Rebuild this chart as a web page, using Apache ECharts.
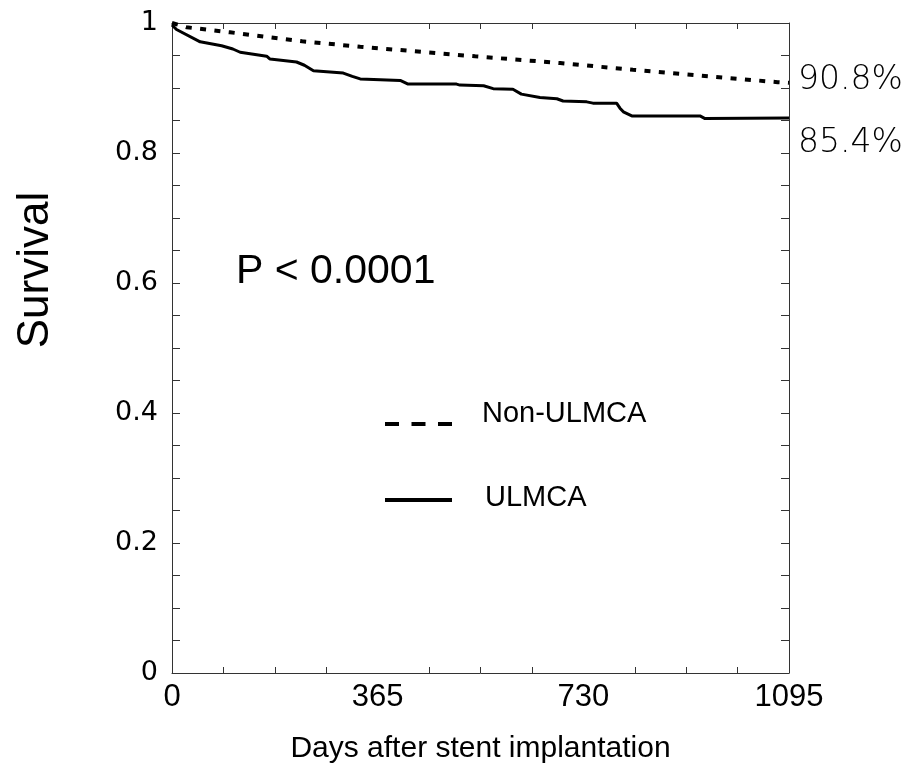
<!DOCTYPE html>
<html>
<head>
<meta charset="utf-8">
<script src="https://cdn.jsdelivr.net/npm/echarts@6/dist/echarts.min.js"></script>
<style>
  html, body { margin: 0; padding: 0; background: #fff; }
  #chart { width: 908px; height: 766px; }
</style>
</head>
<body>
<div id="chart"></div>
<script>
// Non-ULMCA (dotted) survival curve
const nonDays = [0, 26, 103, 231, 334, 538, 689, 818, 1075, 1095]
const nonSurv = [1.0, 0.9934, 0.9857, 0.9718, 0.9635, 0.9487, 0.9384, 0.928, 0.9089, 0.908]

// ULMCA (solid) survival curve
const ulmDays = [0, 8, 50, 88, 108, 121, 168, 174, 221, 235, 251, 304, 320, 334, 405, 419, 505, 511,
  553, 570, 605, 620, 653, 683, 694, 736, 747, 789, 795, 801, 816, 937, 946, 1095]
const ulmSurv = [0.997, 0.99, 0.971, 0.965, 0.96, 0.955, 0.949, 0.9445, 0.94, 0.935, 0.9265, 0.923, 0.918, 0.914,
  0.9117, 0.906, 0.906, 0.9045, 0.9035, 0.899, 0.898, 0.8906, 0.8855, 0.8835, 0.88, 0.8787, 0.8767, 0.8767,
  0.869, 0.8633, 0.857, 0.857, 0.853, 0.854]

const seriesNames = ['Non-ULMCA', 'ULMCA']
const xMax = 1095
const xStep = 365

const pair = (xs, ys) => xs.map((x, i) => [x, ys[i]])
const pct = (p) => (p.value[1] * 100).toFixed(1) + '%'

const chart = echarts.init(document.getElementById('chart'))

const axisLine = { show: true, onZero: false, lineStyle: { color: '#333', width: 1 } }

const option = {
  animation: false,
  backgroundColor: '#fff',
  grid: { left: 172, top: 23, width: 617, height: 650, containLabel: false, outerBoundsMode: 'none' },
  xAxis: [
    {
      type: 'value', min: 0, max: xMax, interval: xStep,
      axisLine,
      axisTick: { show: false, inside: true },
      minorTick: { show: true, splitNumber: 4, length: 6, lineStyle: { color: '#333' } },
      splitLine: { show: false },
      axisLabel: { color: '#000', fontFamily: 'Liberation Sans', fontSize: 31, margin: 9, formatter: (v) => String(v) },
      name: 'Days after stent implantation',
      nameLocation: 'middle',
      nameGap: 61,
      nameTextStyle: { color: '#000', fontFamily: 'Liberation Sans', fontSize: 30 }
    },
    {
      type: 'value', position: 'top', min: 0, max: xMax, interval: xStep,
      axisLine,
      axisTick: { show: false, inside: true },
      minorTick: { show: true, splitNumber: 4, length: 6, lineStyle: { color: '#333' } },
      splitLine: { show: false },
      axisLabel: { show: false }
    }
  ],
  yAxis: [
    {
      type: 'value', min: 0, max: 1, interval: 0.2,
      axisLine,
      axisTick: { show: true, inside: true, length: 8, lineStyle: { color: '#333' } },
      minorTick: { show: true, splitNumber: 4, length: 8, lineStyle: { color: '#333' } },
      splitLine: { show: false },
      axisLabel: { color: '#000', fontFamily: 'DejaVu Sans', fontSize: 27, margin: 14 }
    },
    {
      type: 'value', position: 'right', min: 0, max: 1, interval: 0.2,
      axisLine,
      axisTick: { show: true, inside: true, length: 8, lineStyle: { color: '#333' } },
      minorTick: { show: true, splitNumber: 4, length: 8, lineStyle: { color: '#333' } },
      splitLine: { show: false },
      axisLabel: { show: false }
    }
  ],
  series: [
    {
      name: seriesNames[0],
      type: 'line',
      data: pair(nonDays, nonSurv),
      showSymbol: false,
      symbol: 'none',
      clip: false,
      lineStyle: { color: '#000', width: 4, type: [6, 8.4], cap: 'butt' },
      endLabel: {
        show: true, formatter: pct, distance: 9, offset: [0, -2],
        color: '#000', fontFamily: 'DejaVu Sans', fontWeight: 200, fontSize: 33
      }
    },
    {
      name: seriesNames[1],
      type: 'line',
      data: pair(ulmDays, ulmSurv),
      showSymbol: false,
      symbol: 'none',
      lineStyle: { color: '#000', width: 3 },
      endLabel: {
        show: true, formatter: pct, distance: 9, offset: [0, 26],
        color: '#000', fontFamily: 'DejaVu Sans', fontWeight: 200, fontSize: 33
      }
    }
  ],
  graphic: [
    {
      type: 'text', x: 36, y: 270, rotation: Math.PI / 2,
      style: { text: 'Survival', fill: '#000', font: '44px "Liberation Sans"', align: 'center', verticalAlign: 'middle' }
    },
    {
      type: 'text', x: 236, y: 272,
      style: { text: 'P < 0.0001', fill: '#000', font: '41px "Liberation Sans"', align: 'left', verticalAlign: 'middle' }
    },
    // legend
    {
      type: 'line', shape: { x1: 385, y1: 424, x2: 452, y2: 424 },
      style: { stroke: '#000', lineWidth: 4, lineDash: [14, 12.5] }
    },
    {
      type: 'text', x: 482, y: 414,
      style: { text: seriesNames[0], fill: '#000', font: '29px "Liberation Sans"', align: 'left', verticalAlign: 'middle' }
    },
    {
      type: 'line', shape: { x1: 385, y1: 500, x2: 452, y2: 500 },
      style: { stroke: '#000', lineWidth: 4 }
    },
    {
      type: 'text', x: 485, y: 498,
      style: { text: seriesNames[1], fill: '#000', font: '29px "Liberation Sans"', align: 'left', verticalAlign: 'middle' }
    }
  ]
}

chart.setOption(option)
</script>
</body>
</html>
